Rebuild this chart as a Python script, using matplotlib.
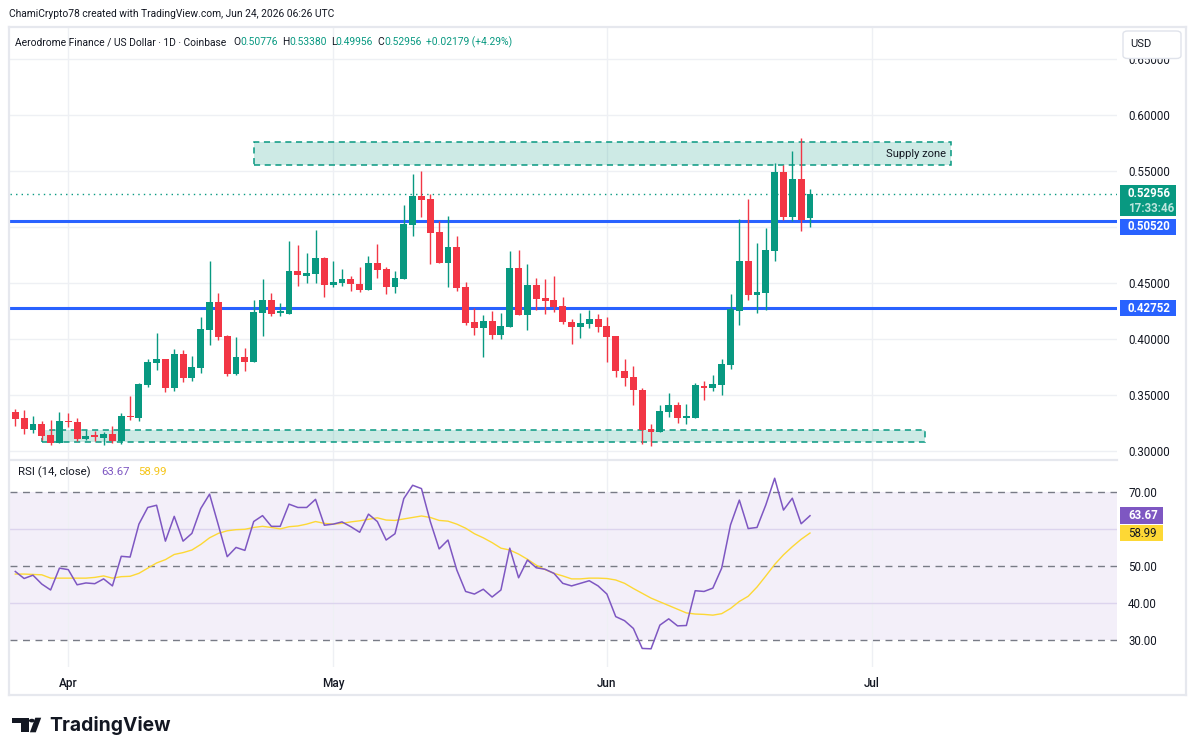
import numpy as np
import pandas as pd
import matplotlib
matplotlib.use("Agg")
import matplotlib.pyplot as plt
import matplotlib.dates as mdates
from matplotlib.patches import Rectangle, FancyBboxPatch, Polygon, Circle
from matplotlib.lines import Line2D
from matplotlib.transforms import blended_transform_factory

# ---------------- data ----------------
dates = pd.date_range("2026-03-26", periods=91, freq="D")

opens = [0.3348, 0.3295, 0.3190, 0.3241, 0.3143, 0.3074, 0.3268, 0.3259, 0.3110, 0.3134,
         0.3119, 0.3152, 0.3092, 0.3313, 0.3298, 0.3589, 0.3789, 0.3821, 0.3565, 0.3866,
         0.3655, 0.3744, 0.4083, 0.4330, 0.4027, 0.3690, 0.3839, 0.3798, 0.4235, 0.4348,
         0.4235, 0.4226, 0.4607, 0.4565, 0.4583, 0.4723, 0.4485, 0.4503, 0.4536, 0.4491,
         0.4440, 0.4679, 0.4625, 0.4467, 0.4539, 0.5021, 0.5277, 0.5250, 0.4955, 0.4682,
         0.4821, 0.4464, 0.4152, 0.4101, 0.4161, 0.4039, 0.4110, 0.4634, 0.4217, 0.4482,
         0.4366, 0.4348, 0.4295, 0.4152, 0.4110, 0.4137, 0.4179, 0.4116, 0.4027, 0.3714,
         0.3661, 0.3545, 0.3196, 0.3173, 0.3351, 0.3411, 0.3298, 0.3298, 0.3580, 0.3565,
         0.3592, 0.3771, 0.4253, 0.4696, 0.4396, 0.4414, 0.4789, 0.5491, 0.5092, 0.5429,
         0.50776]
highs = [0.3378, 0.3366, 0.3313, 0.3268, 0.3277, 0.3348, 0.3339, 0.3295, 0.3188, 0.3179,
         0.3170, 0.3223, 0.3336, 0.3491, 0.3607, 0.3821, 0.4054, 0.3821, 0.3911, 0.3902,
         0.3848, 0.4196, 0.4696, 0.4411, 0.4036, 0.4018, 0.3920, 0.4348, 0.4536, 0.4411,
         0.4321, 0.4875, 0.4839, 0.4768, 0.4973, 0.4732, 0.4696, 0.4625, 0.4563, 0.4643,
         0.4741, 0.4848, 0.4643, 0.4607, 0.5196, 0.5473, 0.5500, 0.5295, 0.5054, 0.5098,
         0.4920, 0.4509, 0.4277, 0.4214, 0.4250, 0.4232, 0.4786, 0.4795, 0.4670, 0.4545,
         0.4536, 0.4563, 0.4375, 0.4179, 0.4232, 0.4259, 0.4223, 0.4196, 0.4027, 0.3821,
         0.3759, 0.3563, 0.3241, 0.3411, 0.3518, 0.3438, 0.3420, 0.3607, 0.3625, 0.3679,
         0.3821, 0.4402, 0.5071, 0.5250, 0.4857, 0.4991, 0.5571, 0.5554, 0.5679, 0.5795,
         0.53380]
lows = [0.3226, 0.3152, 0.3164, 0.3098, 0.3054, 0.3074, 0.3217, 0.3089, 0.3098, 0.3089,
        0.3054, 0.3074, 0.3065, 0.3280, 0.3271, 0.3571, 0.3723, 0.3530, 0.3539, 0.3619,
        0.3628, 0.3699, 0.3949, 0.3994, 0.3673, 0.3682, 0.3717, 0.3798, 0.4030, 0.4208,
        0.4208, 0.4226, 0.4476, 0.4503, 0.4503, 0.4378, 0.4467, 0.4476, 0.4432, 0.4423,
        0.4440, 0.4548, 0.4405, 0.4414, 0.4539, 0.4923, 0.5092, 0.4673, 0.4682, 0.4467,
        0.4432, 0.4128, 0.4039, 0.3842, 0.4003, 0.4003, 0.4110, 0.4217, 0.4083, 0.4262,
        0.4226, 0.4244, 0.4137, 0.3958, 0.4012, 0.4101, 0.4065, 0.3798, 0.3664, 0.3583,
        0.3414, 0.3065, 0.3048, 0.3173, 0.3307, 0.3253, 0.3244, 0.3298, 0.3458, 0.3539,
        0.3503, 0.3735, 0.4128, 0.4351, 0.4235, 0.4262, 0.4699, 0.5065, 0.5057, 0.4967,
        0.49956]
closes = [0.3289, 0.3199, 0.3241, 0.3137, 0.3074, 0.3268, 0.3259, 0.3110, 0.3134, 0.3128,
          0.3152, 0.3092, 0.3313, 0.3304, 0.3598, 0.3795, 0.3821, 0.3565, 0.3866, 0.3655,
          0.3750, 0.4089, 0.4330, 0.4021, 0.3690, 0.3839, 0.3798, 0.4241, 0.4348, 0.4226,
          0.4244, 0.4607, 0.4574, 0.4589, 0.4723, 0.4485, 0.4509, 0.4536, 0.4494, 0.4440,
          0.4679, 0.4619, 0.4467, 0.4545, 0.5027, 0.5277, 0.5244, 0.4949, 0.4682, 0.4821,
          0.4458, 0.4146, 0.4101, 0.4161, 0.4039, 0.4116, 0.4634, 0.4217, 0.4482, 0.4360,
          0.4342, 0.4289, 0.4155, 0.4110, 0.4143, 0.4179, 0.4110, 0.4021, 0.3717, 0.3655,
          0.3548, 0.3190, 0.3173, 0.3357, 0.3411, 0.3298, 0.3307, 0.3589, 0.3565, 0.3598,
          0.3777, 0.4268, 0.4696, 0.4396, 0.4420, 0.4795, 0.5491, 0.5092, 0.5429, 0.5065,
          0.52956]

rsi = [48.6, 46.7, 47.6, 45.2, 43.6, 49.5, 49.1, 45.0, 45.5, 45.3,
       46.6, 44.7, 52.7, 52.5, 61.4, 65.9, 66.5, 56.8, 63.5, 56.8,
       58.9, 65.6, 69.5, 61.1, 52.6, 55.1, 54.3, 62.1, 63.7, 60.8,
       60.8, 66.8, 65.9, 65.9, 68.1, 61.1, 61.4, 62.0, 60.7, 59.2,
       64.1, 62.1, 57.1, 58.8, 68.3, 71.9, 71.0, 62.1, 54.7, 57.1,
       49.0, 43.2, 42.5, 43.8, 41.7, 43.6, 54.9, 46.9, 51.7, 49.6,
       49.2, 48.1, 45.4, 44.7, 45.4, 46.1, 44.7, 42.5, 36.4, 35.3,
       33.2, 27.8, 27.7, 34.1, 35.8, 33.9, 34.0, 43.4, 43.2, 44.1,
       49.5, 61.2, 67.9, 60.2, 60.5, 66.6, 73.8, 65.2, 68.4, 61.5,
       63.67]
rsi_ma = [47.9, 47.9, 47.8, 47.7, 46.8, 46.8, 46.8, 46.8, 46.8, 47.0,
          47.4, 46.8, 47.2, 47.3, 48.1, 49.5, 50.9, 51.8, 53.2, 53.7,
          54.4, 55.9, 57.7, 58.9, 59.6, 59.9, 60.0, 60.5, 60.8, 60.5,
          60.1, 60.7, 60.9, 61.4, 62.1, 61.6, 61.4, 61.6, 62.0, 62.3,
          62.7, 63.1, 62.5, 62.4, 62.8, 63.2, 63.6, 63.2, 62.4, 62.2,
          61.4, 60.3, 58.8, 57.7, 56.4, 54.9, 54.4, 53.3, 51.9, 50.3,
          49.1, 48.1, 47.4, 46.6, 46.6, 46.8, 46.8, 46.7, 46.3, 45.4,
          44.0, 42.7, 41.4, 40.4, 39.4, 38.4, 37.4, 37.1, 37.0, 36.8,
          37.2, 38.6, 40.5, 41.9, 44.4, 47.4, 50.5, 53.1, 55.3, 57.3,
          58.99]

support_lines = [0.50520, 0.42752]
last_price = 0.52956
change_text = "+0.02179 (+4.29%)"
countdown = "17:33:46"
supply_zone = (0.5553, 0.5757)
supply_dates = ("2026-04-22", "2026-07-10")
demand_zone = (0.3076, 0.3187)
demand_dates = ("2026-03-29", "2026-07-07")
price_ticks = [0.30, 0.35, 0.40, 0.45, 0.50, 0.55, 0.60, 0.65]
price_labels = ["0.30000", "0.35000", "0.40000", "0.45000", "", "0.55000", "0.60000", "0.65000"]
rsi_ticks = [30, 40, 50, 70]
rsi_labels = ["30.00", "40.00", "50.00", "70.00"]
month_ticks = ["2026-04-01", "2026-05-01", "2026-06-01", "2026-07-01"]
month_labels = ["Apr", "May", "Jun", "Jul"]

# ---------------- style ----------------
GREEN = "#089981"
RED = "#F23645"
BLUE = "#2962FF"
PURPLE = "#7E57C2"
YELLOW = "#FDD835"
TXT = "#131722"
GRID = "#EEF0F4"
FONT = "Roboto"
plt.rcParams["font.family"] = [FONT, "DejaVu Sans"]
HS = 7.4  # header font size

W, H = 1195, 755
fig = plt.figure(figsize=(W / 100, H / 100), dpi=100)
fig.patch.set_facecolor("white")


def fx(x):
    return x / W


def fy(y):
    return 1 - y / H


def rect(l, t, r, b):
    return [l / W, 1 - b / H, (r - l) / W, (b - t) / H]


xnum = mdates.date2num(dates)
x0 = xnum[0]
xlim = (x0 - 0.6, x0 + 124.77)

# ---------------- main price pane ----------------
ax = fig.add_axes(rect(10, 28, 1117, 459))
ax.set_xlim(*xlim)
ax.set_ylim(0.30 - 8 / 1120, 0.30 + 423 / 1120)
for s in ax.spines.values():
    s.set_visible(False)

for p in price_ticks:
    ax.axhline(p, color=GRID, lw=1, zorder=0)
for m in month_ticks:
    ax.axvline(mdates.date2num(pd.Timestamp(m)), color=GRID, lw=1, zorder=0)

# zones
for (lo, hi), (d0, d1) in [(supply_zone, supply_dates), (demand_zone, demand_dates)]:
    a = mdates.date2num(pd.Timestamp(d0))
    b = mdates.date2num(pd.Timestamp(d1))
    ax.add_patch(Rectangle((a, lo), b - a, hi - lo, facecolor=GREEN, alpha=0.2,
                           edgecolor="none", zorder=1))
    ax.add_patch(Rectangle((a, lo), b - a, hi - lo, facecolor="none", edgecolor=GREEN,
                           lw=1.1, ls=(0, (4, 3)), zorder=1.2))
sz_right = mdates.date2num(pd.Timestamp(supply_dates[1]))
ax.text(sz_right - 0.6, (supply_zone[0] + supply_zone[1]) / 2, "Supply zone",
        ha="right", va="center", fontsize=8.0, color=TXT, zorder=3)

# horizontal lines
for v in support_lines:
    ax.axhline(v, color=BLUE, lw=2.2, zorder=2)
ax.axhline(last_price, color=GREEN, lw=1, ls=(0, (1, 3)), zorder=2)

# candles
o = np.array(opens)
c = np.array(closes)
h = np.array(highs)
l = np.array(lows)
cols = np.where(c >= o, GREEN, RED)
ax.vlines(xnum, l, h, colors=cols, lw=1.0, zorder=4)
body_lo = np.minimum(o, c)
body_h = np.maximum(np.abs(c - o), 1.3 / 1120)
ax.bar(xnum, body_h, bottom=body_lo, width=0.78, color=cols, zorder=5, linewidth=0)

ax.set_xticks([])
ax.yaxis.tick_right()
ax.set_yticks(price_ticks)
ax.set_yticklabels(price_labels)
ax.tick_params(axis="y", length=0, pad=8, labelsize=8.3, labelcolor=TXT)

# right-side price labels
bt = blended_transform_factory(ax.transAxes, ax.transData)
bx = (1120 - 10) / 1107
tx = (1128 - 10) / 1107
bw = 56 / 1107
ps = 1120.0
ax.add_patch(Rectangle((bx, last_price + 9 / ps - 31 / ps), bw, 31 / ps, transform=bt,
                       facecolor=GREEN, edgecolor="none", clip_on=False, zorder=6))
ax.text(tx, last_price, f"{last_price:.5f}", transform=bt, ha="left", va="center",
        color="white", fontsize=8.3, fontweight="bold", clip_on=False, zorder=7)
ax.text(tx, last_price - 15 / ps, countdown, transform=bt, ha="left", va="center",
        color="#BDE6DE", fontsize=8.3, fontweight="bold", clip_on=False, zorder=7)
for v, shift in zip(support_lines, [-5.5, 0.0]):
    cy = v + shift / ps
    ax.add_patch(Rectangle((bx, cy - 8 / ps), bw, 16 / ps, transform=bt,
                           facecolor=BLUE, edgecolor="none", clip_on=False, zorder=6))
    ax.text(tx, cy, f"{v:.5f}", transform=bt, ha="left", va="center",
            color="white", fontsize=8.3, fontweight="bold", clip_on=False, zorder=7)

# ---------------- RSI pane ----------------
ax2 = fig.add_axes(rect(10, 461, 1117, 667))
ax2.set_xlim(*xlim)
rs = 3.7
ax2.set_ylim(50 - (667 - 566.3) / rs, 50 + (566.3 - 461) / rs)
for s in ax2.spines.values():
    s.set_visible(False)
ax2.axhspan(30, 70, color=PURPLE, alpha=0.09, lw=0, zorder=0)
for m in month_ticks:
    ax2.axvline(mdates.date2num(pd.Timestamp(m)), color=GRID, lw=1, zorder=0.5)
for v in (40, 60):
    ax2.axhline(v, color="#DCD4EE", lw=1, zorder=0.6)
for v in (30, 50, 70):
    ax2.axhline(v, color="#787B86", lw=1, ls=(0, (5, 4)), zorder=1)
ax2.plot(xnum, rsi_ma, color=YELLOW, lw=1.0, zorder=3)
ax2.plot(xnum, rsi, color=PURPLE, lw=1.1, zorder=4)

ax2.yaxis.tick_right()
ax2.set_yticks(rsi_ticks)
ax2.set_yticklabels(rsi_labels)
ax2.tick_params(axis="y", length=0, pad=8, labelsize=8.3, labelcolor=TXT)
ax2.set_xticks([mdates.date2num(pd.Timestamp(m)) for m in month_ticks])
ax2.set_xticklabels(month_labels)
ax2.tick_params(axis="x", length=0, pad=7, labelsize=8.5, labelcolor=TXT)
for t in ax2.get_xticklabels():
    t.set_fontweight("medium")

bt2 = blended_transform_factory(ax2.transAxes, ax2.transData)
bw2 = 43 / 1107
for v, fc, tc in [(rsi[-1], PURPLE, "white"), (rsi_ma[-1], YELLOW, TXT)]:
    ax2.add_patch(Rectangle((bx, v - 8 / rs), bw2, 16.5 / rs, transform=bt2,
                            facecolor=fc, edgecolor="none", clip_on=False, zorder=6))
    ax2.text(tx, v, f"{v:.2f}", transform=bt2, ha="left", va="center", color=tc,
             fontsize=8.3, fontweight="bold" if tc == "white" else "normal",
             clip_on=False, zorder=7)

# ---------------- frame & header ----------------
FR = "#E6E8EE"
for (xa, ya, xb, yb) in [(9, 27, 1186, 27), (9, 695, 1186, 695), (9, 27, 9, 695),
                         (1186, 27, 1186, 695), (10, 459.8, 1117, 459.8)]:
    fig.add_artist(Line2D([fx(xa), fx(xb)], [fy(ya), fy(yb)], color=FR, lw=1.6))

fig.text(fx(9), fy(14), "ChamiCrypto78 created with TradingView.com, Jun 24, 2026 06:26 UTC",
         ha="left", va="center", fontsize=HS, color=TXT)

fig.text(fx(15), fy(42), "Aerodrome Finance / US Dollar · 1D · Coinbase",
         ha="left", va="center", fontsize=HS, color=TXT)
ohlc = [("O", 233.3, 240.7, opens[-1]), ("H", 282, 289.3, highs[-1]),
        ("L", 330.7, 335.5, lows[-1]), ("C", 377, 384.3, closes[-1])]
for lab, xl, xv, val in ohlc:
    fig.text(fx(xl), fy(42), lab, ha="left", va="center", fontsize=HS, color=TXT)
    fig.text(fx(xv), fy(42), f"{val:.5f}", ha="left", va="center", fontsize=HS, color=GREEN)
fig.text(fx(425.7), fy(42), change_text, ha="left", va="center", fontsize=HS, color=GREEN)

# USD box (covers most of the top price label, as in the reference)
fig.add_artist(FancyBboxPatch((fx(1123), fy(58.5)), fx(1181) - fx(1123), fy(31) - fy(58.5),
                              boxstyle="round,pad=0,rounding_size=0.004",
                              transform=fig.transFigure, facecolor="white",
                              edgecolor="#E0E3EB", lw=1, zorder=5))
fig.text(fx(1130), fy(44), "USD", ha="left", va="center", fontsize=8.0, color=TXT, zorder=6)

# RSI legend
fig.text(fx(18), fy(472), "RSI (14, close)", ha="left", va="center", fontsize=8.2, color=TXT)
fig.text(fx(101.5), fy(472), f"{rsi[-1]:.2f}", ha="left", va="center", fontsize=8.2, color=PURPLE)
fig.text(fx(138.5), fy(472), f"{rsi_ma[-1]:.2f}", ha="left", va="center", fontsize=8.2,
         color="#F5C518")

# TradingView logo
K = "#131722"
fig.add_artist(Polygon([(fx(12.3), fy(717.7)), (fx(29), fy(717.7)), (fx(29), fy(732.3)),
                        (fx(20.7), fy(732.3)), (fx(20.7), fy(723.3)), (fx(12.3), fy(723.3))],
                       closed=True, transform=fig.transFigure, facecolor=K, edgecolor="none"))
fig.add_artist(Circle((fx(31.8), fy(720.6)), 2.9 / W, transform=fig.transFigure,
                      facecolor=K, edgecolor="none"))
fig.add_artist(Polygon([(fx(35.3), fy(717.7)), (fx(41.2), fy(717.7)), (fx(35.8), fy(732.3)),
                        (fx(29.9), fy(732.3))], closed=True, transform=fig.transFigure,
                       facecolor=K, edgecolor="none"))
fig.text(fx(49.5), fy(725.5), "TradingView", ha="left", va="center", fontsize=13.9,
         fontweight="bold", color=K, family=["Inter", "DejaVu Sans"])

fig.savefig("out.png", dpi=100, facecolor="white")
